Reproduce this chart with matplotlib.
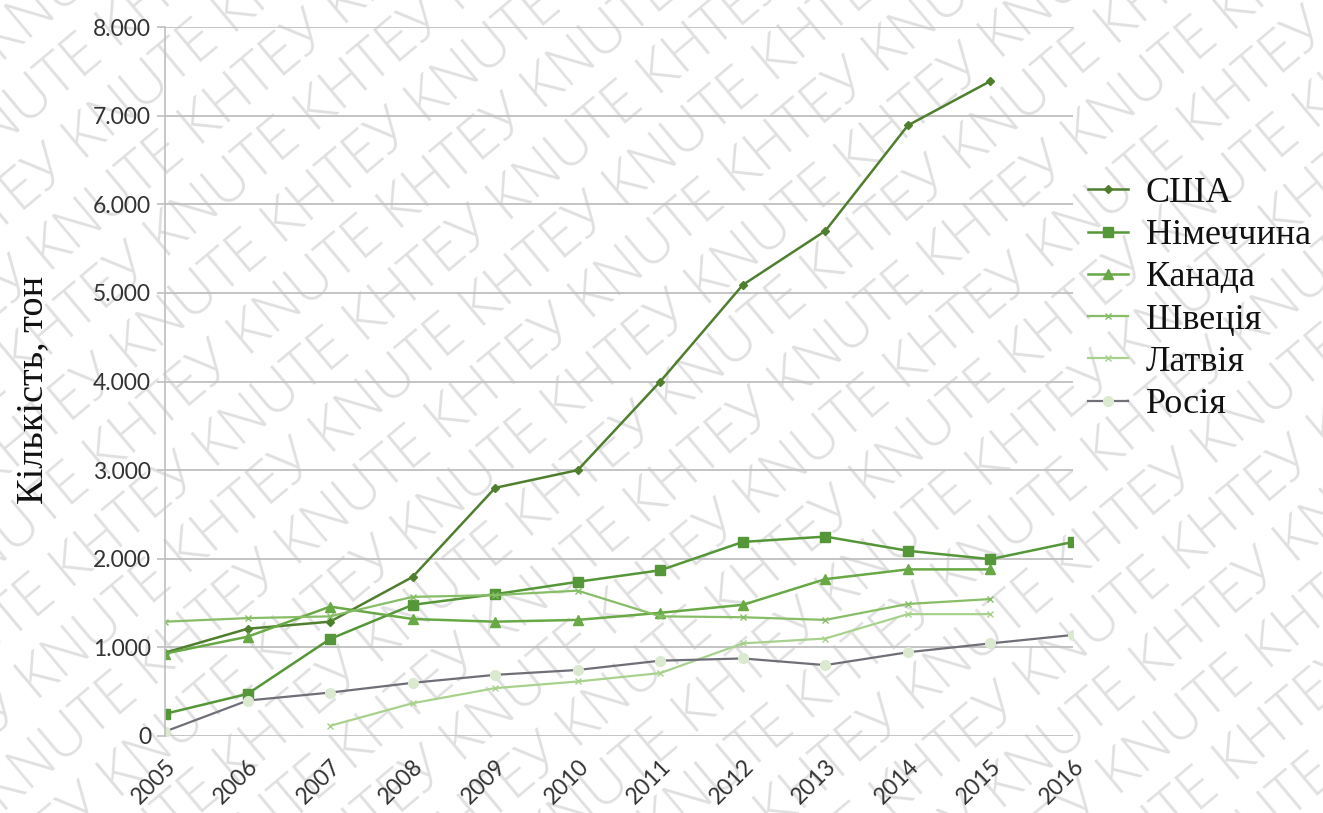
import numpy as np
import matplotlib
matplotlib.use("Agg")
import matplotlib.pyplot as plt

# Data: export volumes by country, tonnes
years = ["2005", "2006", "2007", "2008", "2009", "2010",
         "2011", "2012", "2013", "2014", "2015", "2016"]
nan = np.nan
usa = [940, 1210, 1290, 1795, 2800, 3000, 4000, 5090, 5700, 6890, 7390, nan]
germany = [250, 475, 1095, 1480, 1600, 1740, 1870, 2190, 2250, 2090, 1995, 2190]
canada = [930, 1120, 1460, 1320, 1290, 1310, 1390, 1480, 1770, 1880, 1880, nan]
sweden = [1290, 1330, 1350, 1570, 1590, 1640, 1350, 1340, 1310, 1490, 1545, nan]
latvia = [nan, nan, 115, 370, 540, 615, 710, 1045, 1100, 1375, 1375, nan]
russia = [50, 400, 490, 600, 690, 745, 850, 875, 800, 945, 1045, 1140]

series_names = ["США", "Німеччина", "Канада", "Швеція", "Латвія", "Росія"]
y_ticks = [0, 1000, 2000, 3000, 4000, 5000, 6000, 7000, 8000]
y_tick_labels = ["0", "1.000", "2.000", "3.000", "4.000", "5.000",
                 "6.000", "7.000", "8.000"]
y_label = "Кількість, тон"

W, H = 1323, 813
fig = plt.figure(figsize=(W / 100, H / 100), dpi=100)
fig.patch.set_facecolor("white")

# Diagonal repeated watermark behind the chart
ang = np.deg2rad(40)
d = np.array([np.cos(ang), np.sin(ang)])
nvec = np.array([-np.sin(ang), np.cos(ang)])
spacing = 64
word = 98
for k in range(-16, 17):
    shift = (k % 2) * word
    p = np.array([W / 2, H / 2]) + k * spacing * nvec + shift * d
    fig.text(p[0] / W, p[1] / H, "KNUTE КНТЕУ " * 10,
             rotation=40, rotation_mode="anchor", ha="center", va="center",
             fontsize=42, family="Open Sans", fontweight="light",
             color="#e0e0e0", zorder=-5)

ax = fig.add_axes([165 / W, 1 - 736 / H, (1073 - 165) / W, (736 - 27) / H])
ax.set_facecolor("none")

x = np.arange(len(years))
styles = [
    dict(color="#4f7f2e", marker="D", markersize=4.5, lw=1.8),
    dict(color="#559638", marker="s", markersize=7.5, lw=1.8),
    dict(color="#68a845", marker="^", markersize=6.5, lw=1.8),
    dict(color="#86bd66", marker="x", markersize=5, lw=1.6, mew=1.0),
    dict(color="#a9d18e", marker="x", markersize=5, lw=1.6, mew=1.0),
    dict(color="#6f6f78", marker="o", markersize=7, lw=1.6,
         markerfacecolor="#dbe9d1", markeredgecolor="#dbe9d1"),
]
for vals, name, st in zip([usa, germany, canada, sweden, latvia, russia],
                          series_names, styles):
    ax.plot(x, vals, label=name, **st)

ax.set_xlim(0, len(years) - 1)
ax.set_ylim(0, 8000)
ax.set_yticks(y_ticks)
ax.set_yticklabels(y_tick_labels, family="Lato", fontsize=16.5, color="#333333")
ax.set_xticks(x)
ax.set_xticklabels(years, family="Lato", fontsize=16.5, color="#333333",
                   rotation=45, ha="right", rotation_mode="anchor")
ax.tick_params(axis="y", length=6, width=1.2, color="#bfbfbf", pad=4)
ax.tick_params(axis="x", length=0, pad=14)
ax.grid(axis="y", color="#bfbfbf", lw=1.3)
ax.set_axisbelow(True)
for s in ["top", "right", "bottom"]:
    ax.spines[s].set_visible(False)
ax.spines["left"].set_color("#bfbfbf")
ax.spines["left"].set_linewidth(1.2)

fig.text(33 / W, 1 - 390 / H, y_label, rotation=90, ha="center", va="center",
         family="Liberation Serif", fontsize=27.5, color="#111111")

leg = fig.legend(loc="center left", bbox_to_anchor=(1088 / W, 1 - 299 / H),
                 frameon=False, prop=dict(family="Liberation Serif", size=26),
                 handlelength=1.1, handletextpad=0.5, labelspacing=0.25,
                 borderaxespad=0, borderpad=0)
for t in leg.get_texts():
    t.set_color("#111111")

fig.savefig("out.png", dpi=100)
